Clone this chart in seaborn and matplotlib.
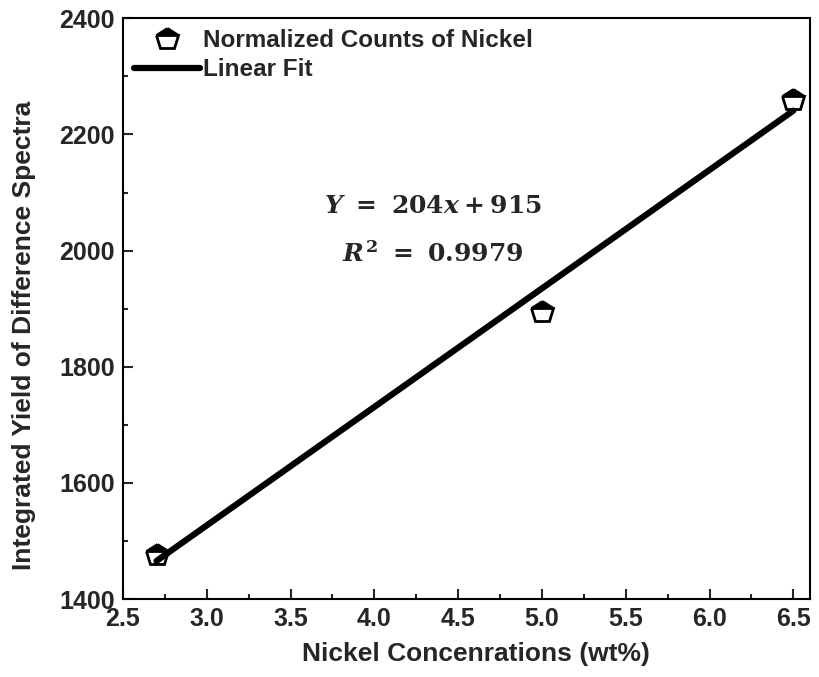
import numpy as np
import pandas as pd
import seaborn as sns
import matplotlib.pyplot as plt

# data
nickel_wt = [2.7, 5.0, 6.5]
counts = [1476, 1895, 2259]
slope, intercept = 204, 915
eq_text = r'$Y\ =\ 204x + 915$'
r2_text = r'$R^2\ =\ 0.9979$'

sns.set_style('ticks')
plt.rcParams['font.family'] = ['Liberation Sans', 'DejaVu Sans']
plt.rcParams['font.weight'] = 'bold'
plt.rcParams['mathtext.fontset'] = 'custom'
plt.rcParams['mathtext.rm'] = 'DejaVu Serif:bold'
plt.rcParams['mathtext.it'] = 'DejaVu Serif:italic:bold'
plt.rcParams['mathtext.bf'] = 'DejaVu Serif:bold'

df = pd.DataFrame({'x': nickel_wt, 'y': counts})
fit = pd.DataFrame({'x': nickel_wt})
fit['y'] = slope * fit['x'] + intercept

fig = plt.figure(figsize=(8.2, 6.77), dpi=100)
ax = fig.add_axes([0.15, 0.115, 0.838, 0.858])

sns.lineplot(data=df, x='x', y='y', ax=ax, linestyle='', marker='p', markersize=16.5,
             fillstyle='top', markerfacecolor='black', markerfacecoloralt='white',
             markeredgecolor='black', markeredgewidth=2, color='black',
             label='Normalized Counts of Nickel')
sns.lineplot(data=fit, x='x', y='y', ax=ax, color='black', linewidth=4.5,
             label='Linear Fit')

ax.text(4.35, 2076, eq_text, ha='center', va='center', fontsize=18)
ax.text(4.35, 1994, r2_text, ha='center', va='center', fontsize=18)

ax.set_xlim(2.5, 6.6)
ax.set_ylim(1400, 2400)
ax.set_xticks(np.arange(2.5, 6.51, 0.5))
ax.set_xticks(np.arange(2.75, 6.6, 0.5), minor=True)
ax.set_yticks(np.arange(1400, 2401, 200))
ax.set_yticks(np.arange(1500, 2400, 200), minor=True)
ax.tick_params(which='both', direction='in', width=1.5)
ax.tick_params(which='major', length=7, labelsize=18, pad=6)
ax.tick_params(which='minor', length=3.5)
for lab in ax.get_xticklabels() + ax.get_yticklabels():
    lab.set_fontweight('bold')

for spine in ax.spines.values():
    spine.set_visible(True)
    spine.set_color('black')
    spine.set_linewidth(1.5)

ax.set_xlabel('Nickel Concenrations (wt%)', fontsize=19, fontweight='bold')
ax.set_ylabel('Integrated Yield of Difference Spectra', fontsize=19, fontweight='bold')
ax.xaxis.set_label_coords(0.514, -0.074)
ax.yaxis.set_label_coords(-0.126, 0.454)

leg = ax.legend(loc='upper left', frameon=False, fontsize=17.5, handlelength=2.7,
                handletextpad=0.15, borderaxespad=0.3, borderpad=0.15,
                labelspacing=0.25)
for t in leg.get_texts():
    t.set_fontweight('bold')

fig.savefig('out.png', dpi=100)
